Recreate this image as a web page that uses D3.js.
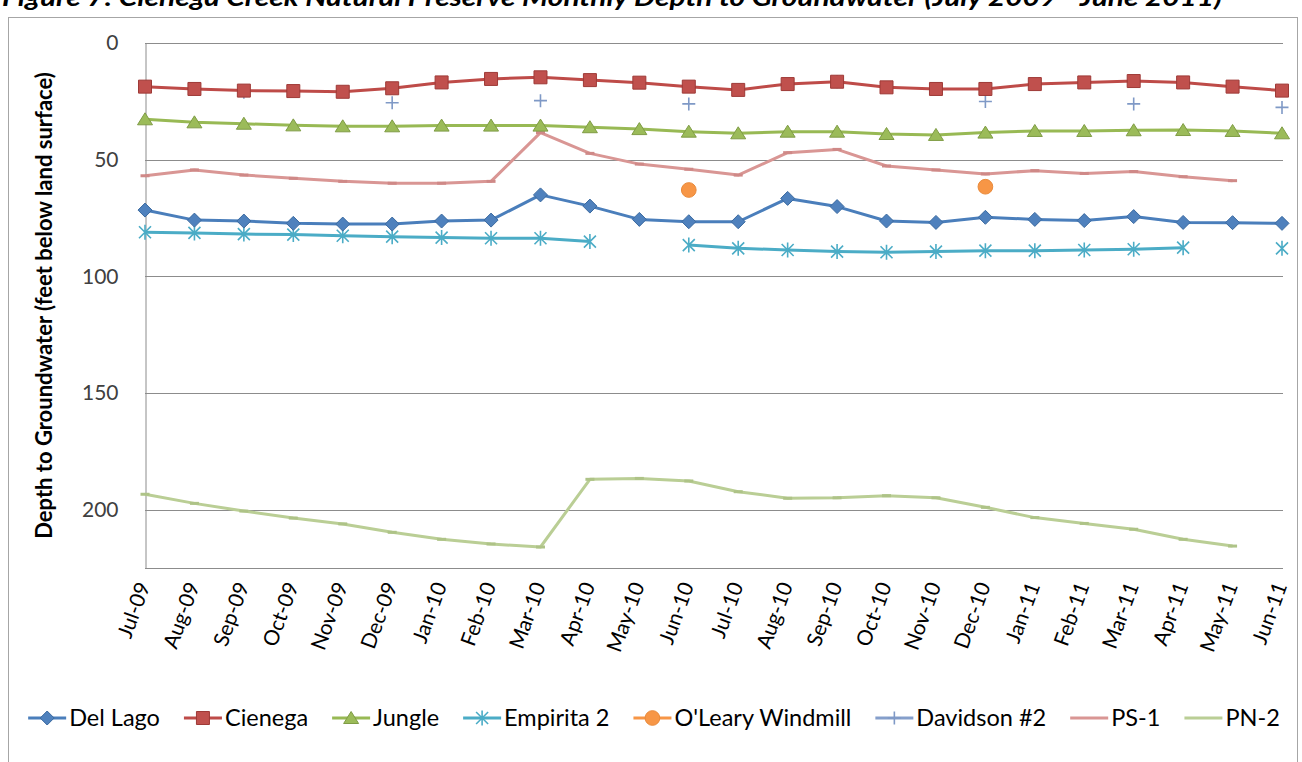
<!DOCTYPE html>
<html>
<head>
<meta charset="utf-8">
<script src="https://cdn.jsdelivr.net/npm/d3@7"></script>
<style>
  body { margin: 0; background: #fff; overflow: hidden; }
  svg { display: block; font-family: Lato, "Open Sans", sans-serif; }
</style>
</head>
<body>
<svg id="chart" width="1302" height="762"></svg>
<script>
// Monthly readings, Jul 2009 - Jun 2011 (feet below land surface); null = no reading
const months = ["Jul-09","Aug-09","Sep-09","Oct-09","Nov-09","Dec-09","Jan-10","Feb-10","Mar-10","Apr-10","May-10","Jun-10",
                "Jul-10","Aug-10","Sep-10","Oct-10","Nov-10","Dec-10","Jan-11","Feb-11","Mar-11","Apr-11","May-11","Jun-11"];
const delLago   = [71.6,75.9,76.3,77.3,77.6,77.6,76.3,75.9,65.1,69.9,75.6,76.6,76.6,66.6,70.1,76.3,76.9,74.7,75.6,76.1,74.4,76.9,77.0,77.3];
const cienega   = [18.7,19.7,20.4,20.6,20.9,19.4,16.9,15.4,14.7,15.9,17.0,18.7,20.1,17.6,16.6,19.0,19.7,19.7,17.6,16.9,16.3,16.9,18.7,20.4];
const jungle    = [32.7,34.0,34.6,35.3,35.7,35.7,35.4,35.4,35.4,36.1,36.9,38.0,38.7,38.0,38.0,39.0,39.4,38.4,37.7,37.7,37.4,37.3,37.7,38.7];
const empirita2 = [81.1,81.4,81.9,82.1,82.6,83.0,83.4,83.7,83.7,85.1,null,86.6,88.0,88.7,89.4,89.7,89.4,89.0,89.0,88.7,88.4,87.7,null,88.0];
const oLeary    = [null,null,null,null,null,null,null,null,null,null,null,63.0,null,null,null,null,null,61.6,null,null,null,null,null,null];
const davidson2 = [null,null,21.1,null,null,25.6,null,null,24.7,null,null,26.1,null,null,16.6,null,null,25.1,null,null,26.1,null,null,27.6];
const ps1       = [56.9,54.4,56.6,58.0,59.3,60.1,60.1,59.3,38.4,47.3,51.9,54.1,56.6,47.0,45.6,52.7,54.4,56.1,54.7,55.9,55.1,57.3,59.0,null];
const pn2       = [193.4,197.3,200.6,203.6,206.1,209.7,212.7,214.7,216.0,187.0,186.6,187.7,192.3,195.1,194.9,194.0,194.9,199.0,203.4,205.9,208.4,212.7,215.6,null];
const yTicks    = [0,50,100,150,200];

const seriesNames = ["Del Lago","Cienega","Jungle","Empirita 2","O'Leary Windmill","Davidson #2","PS-1","PN-2"];
const seriesValues = [delLago, cienega, jungle, empirita2, oLeary, davidson2, ps1, pn2];

// Drawing style per series
const styles = [
  { line: "#4A7EBB", fill: "#4F81BD", stroke: "#3B6AA0", marker: "diamond" },
  { line: "#BE4B48", fill: "#C0504D", stroke: "#9E3A37", marker: "square" },
  { line: "#98B954", fill: "#9BBB59", stroke: "#7F9C45", marker: "triangle" },
  { line: "#4BACC6", fill: "none",    stroke: "#4BACC6", marker: "star" },
  { line: "#F79646", fill: "#F79646", stroke: "#E98A3B", marker: "circle" },
  { line: "#859FCB", fill: "none",    stroke: "#7F99C6", marker: "plus" },
  { line: "#D99694", fill: "none",    stroke: "#CF8987", marker: "dash" },
  { line: "#BACE95", fill: "none",    stroke: "#AEC387", marker: "dash" }
];

const series = seriesNames.map((name, i) => ({ name, values: seriesValues[i], ...styles[i] }));

const svg = d3.select("#chart");

// Chart area frame
svg.append("rect")
  .attr("x", 8.5).attr("y", 17.5)
  .attr("width", 1289).attr("height", 780)
  .attr("fill", "#fff").attr("stroke", "#a6a6a6").attr("stroke-width", 1);

// Title (runs off the top edge)
svg.append("text")
  .attr("x", 2).attr("y", 6)
  .attr("font-size", 24).attr("font-style", "italic").attr("font-weight", "bold")
  .attr("fill", "#000")
  .attr("textLength", 1220).attr("lengthAdjust", "spacingAndGlyphs")
  .text("Figure 7: Cienega Creek Natural Preserve Monthly Depth to Groundwater (July 2009 - June 2011)");

const x = d3.scalePoint().domain(months).range([145, 1282]);
const y = d3.scaleLinear().domain([0, 225]).range([43, 568]);

const plotRight = 1283;

// Horizontal gridlines
svg.append("g").selectAll("line")
  .data(yTicks).join("line")
  .attr("x1", 145).attr("x2", plotRight)
  .attr("y1", d => Math.round(y(d)) + 0.5).attr("y2", d => Math.round(y(d)) + 0.5)
  .attr("stroke", "#8c8c8c").attr("stroke-width", 1);

// Y axis
const yAxis = svg.append("g")
  .attr("transform", "translate(145.5,0)")
  .call(d3.axisLeft(y).tickValues(yTicks).tickSize(0).tickPadding(27));
yAxis.select(".domain").attr("stroke", "#8c8c8c");
yAxis.selectAll("text")
  .attr("font-family", "Lato, sans-serif").attr("font-size", 21).attr("fill", "#404040");

// X axis
const xAxis = svg.append("g")
  .attr("transform", `translate(0,${Math.round(y(225)) + 0.5})`)
  .call(d3.axisBottom(x).tickSize(0).tickPadding(0));
xAxis.select(".domain").attr("stroke", "#8c8c8c").attr("d", `M145,0H${plotRight}`);
xAxis.selectAll("text")
  .attr("font-family", "Lato, sans-serif").attr("font-size", 21).attr("fill", "#000")
  .attr("text-anchor", "end")
  .attr("dy", 0)
  .attr("transform", "translate(5,17) rotate(-70)");

// Y axis title
svg.append("text")
  .attr("transform", `translate(52,${(y(0) + y(225)) / 2}) rotate(-90)`)
  .attr("text-anchor", "middle")
  .attr("font-size", 22).attr("font-weight", "bold").attr("fill", "#000")
  .text("Depth to Groundwater (feet below land surface)");

// Marker shapes
function markerPath(kind) {
  switch (kind) {
    case "diamond":  return "M0,-7L7,0L0,7L-7,0Z";
    case "square":   return "M-6.5,-6.5H6.5V6.5H-6.5Z";
    case "triangle": return "M0,-6.5L7.5,5.5H-7.5Z";
    case "circle":   return d3.symbol(d3.symbolCircle, 170)();
    case "star":     return "M-6,-6L6,6M-6,6L6,-6M0,-7.5V7.5";
    case "plus":     return "M-6.5,0H6.5M0,-6.5V6.5";
    case "dash":     return "M-4.5,0H4.5";
  }
}
function drawMarker(sel, s) {
  const open = s.marker === "star" || s.marker === "plus" || s.marker === "dash";
  sel.attr("d", markerPath(s.marker))
    .attr("fill", open ? "none" : s.fill)
    .attr("stroke", s.stroke)
    .attr("stroke-width", s.marker === "dash" ? 3 : (open ? 1.6 : 1));
}

const line = d3.line()
  .defined(d => d.v != null)
  .x(d => x(d.m))
  .y(d => y(d.v));

// Series drawn in reverse so Del Lago ends up on top
const plot = svg.append("g");
series.slice().reverse().forEach(s => {
  const pts = s.values.map((v, i) => ({ m: months[i], v }));
  const g = plot.append("g");
  g.append("path")
    .datum(pts)
    .attr("d", line)
    .attr("fill", "none")
    .attr("stroke", s.line)
    .attr("stroke-width", 3)
    .attr("stroke-linejoin", "round");
  g.selectAll("path.mk")
    .data(pts.filter(d => d.v != null))
    .join("path").attr("class", "mk")
    .attr("transform", d => `translate(${x(d.m)},${y(d.v)})`)
    .call(drawMarker, s);
});

// Legend, centred under the plot
const legend = svg.append("g").attr("transform", "translate(0,718)");
const lineLen = 38, textGap = 3, itemGap = 24;
const items = legend.selectAll("g").data(series).join("g");
items.append("line")
  .attr("x1", 0).attr("x2", lineLen).attr("y1", 0).attr("y2", 0)
  .attr("stroke", d => d.line).attr("stroke-width", 3);
items.filter(d => d.marker !== "dash").append("path")
  .attr("transform", `translate(${lineLen / 2},0)`)
  .each(function (d) { d3.select(this).call(drawMarker, d); });
items.append("text")
  .attr("x", lineLen + textGap).attr("dy", "0.35em")
  .attr("font-size", 23.5).attr("fill", "#000")
  .text(d => d.name);

let widths = [];
items.each(function () { widths.push(this.getBBox().width); });
const total = d3.sum(widths) + itemGap * (widths.length - 1);
let cx = 654 - total / 2;
items.attr("transform", (d, i) => {
  const t = `translate(${cx},0)`;
  cx += widths[i] + itemGap;
  return t;
});
</script>
</body>
</html>
